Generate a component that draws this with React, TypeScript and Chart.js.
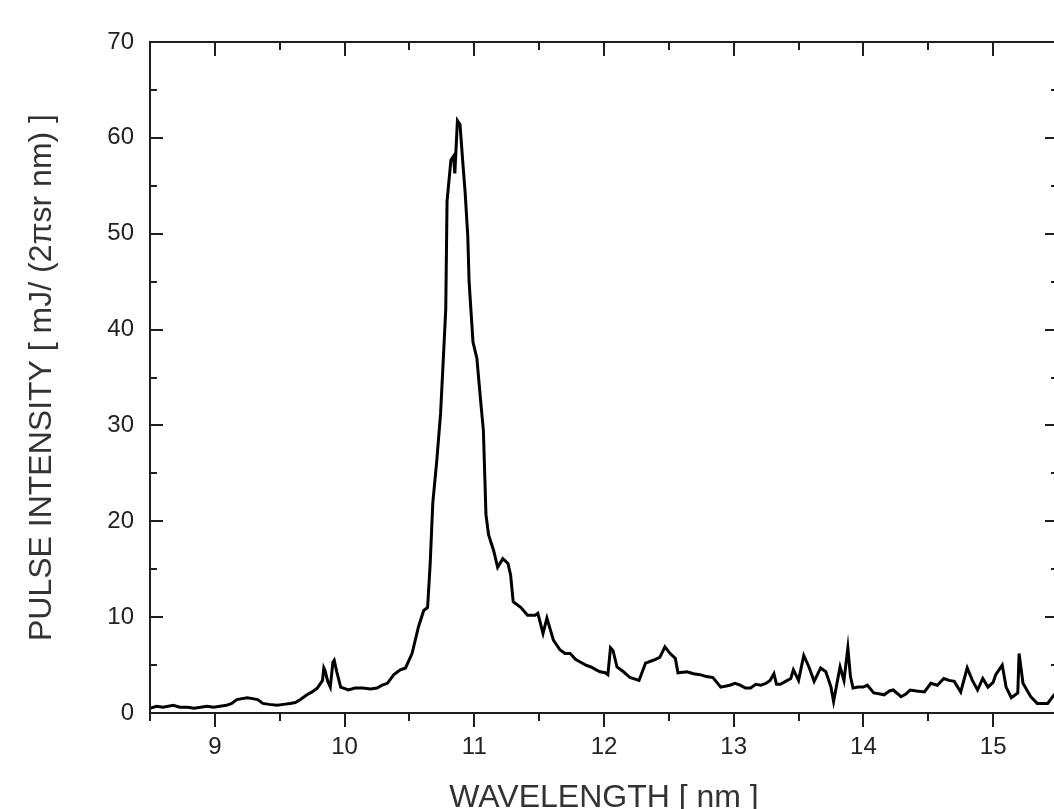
import { useEffect, useRef } from 'react';
import { Chart, registerables } from 'chart.js';

Chart.register(...registerables);

// Wavelength in nm (x) and pulse intensity in mJ/(2πsr nm) (y)
const wavelength = [
  8.50, 8.55, 8.60, 8.68, 8.73, 8.79, 8.84, 8.89, 8.94, 8.99,
  9.04, 9.09, 9.13, 9.17, 9.21, 9.25, 9.29, 9.33, 9.37, 9.42,
  9.48, 9.53, 9.58, 9.62, 9.66, 9.71, 9.75, 9.79, 9.83, 9.84,
  9.85, 9.87, 9.89, 9.91, 9.92, 9.94, 9.97, 10.03, 10.08, 10.14,
  10.20, 10.25, 10.29, 10.33, 10.38, 10.43, 10.47, 10.52, 10.57, 10.61,
  10.64, 10.66, 10.68, 10.71, 10.74, 10.76, 10.78, 10.79, 10.82, 10.84,
  10.85, 10.87, 10.89, 10.91, 10.93, 10.95, 10.96, 10.99, 11.02, 11.05,
  11.07, 11.09, 11.11, 11.15, 11.18, 11.22, 11.26, 11.28, 11.30, 11.36,
  11.41, 11.47, 11.49, 11.53, 11.56, 11.61, 11.66, 11.70, 11.74, 11.78,
  11.82, 11.86, 11.90, 11.94, 11.97, 12.01, 12.03, 12.05, 12.07, 12.10,
  12.15, 12.20, 12.27, 12.32, 12.38, 12.43, 12.47, 12.51, 12.55, 12.57,
  12.64, 12.69, 12.74, 12.79, 12.84, 12.90, 12.97, 13.01, 13.05, 13.09,
  13.13, 13.17, 13.21, 13.25, 13.28, 13.31, 13.33, 13.36, 13.40, 13.44,
  13.46, 13.50, 13.54, 13.58, 13.62, 13.67, 13.71, 13.75, 13.77, 13.80,
  13.82, 13.85, 13.88, 13.90, 13.92, 13.96, 14.00, 14.03, 14.08, 14.12,
  14.16, 14.20, 14.23, 14.29, 14.33, 14.36, 14.41, 14.47, 14.52, 14.57,
  14.62, 14.66, 14.70, 14.75, 14.80, 14.84, 14.88, 14.92, 14.96, 15.00,
  15.02, 15.07, 15.10, 15.14, 15.19, 15.20, 15.23, 15.29, 15.34, 15.42,
  15.47, 15.50,
];

const intensity = [
  0.5, 0.7, 0.6, 0.8, 0.6, 0.6, 0.5, 0.6, 0.7, 0.6,
  0.7, 0.8, 1.0, 1.4, 1.5, 1.6, 1.5, 1.4, 1.0, 0.9,
  0.8, 0.9, 1.0, 1.1, 1.4, 1.9, 2.2, 2.6, 3.4, 4.7,
  4.4, 3.3, 2.7, 5.3, 5.5, 4.3, 2.7, 2.4, 2.6, 2.6,
  2.5, 2.6, 2.9, 3.1, 4.0, 4.5, 4.7, 6.2, 9.0, 10.7,
  11.0, 15.6, 21.9, 26.2, 31.2, 36.6, 42.1, 53.4, 57.7, 58.1,
  56.3, 61.8, 61.4, 57.7, 54.2, 49.7, 45.0, 38.7, 37.0, 32.4,
  29.5, 20.7, 18.6, 16.9, 15.2, 16.1, 15.6, 14.4, 11.6, 11.0,
  10.2, 10.2, 10.4, 8.3, 9.9, 7.6, 6.6, 6.2, 6.2, 5.6,
  5.3, 5.0, 4.8, 4.5, 4.3, 4.2, 4.0, 6.8, 6.5, 4.8,
  4.3, 3.7, 3.4, 5.2, 5.5, 5.8, 6.9, 6.2, 5.7, 4.2,
  4.3, 4.1, 4.0, 3.8, 3.7, 2.7, 2.9, 3.1, 2.9, 2.6,
  2.6, 3.0, 2.9, 3.1, 3.4, 4.1, 3.0, 3.0, 3.3, 3.6,
  4.5, 3.4, 6.0, 4.8, 3.3, 4.7, 4.3, 2.7, 1.2, 3.4,
  4.8, 3.4, 6.8, 3.8, 2.6, 2.7, 2.7, 2.9, 2.1, 2.0,
  1.9, 2.3, 2.4, 1.7, 2.0, 2.4, 2.3, 2.2, 3.1, 2.9,
  3.6, 3.4, 3.3, 2.2, 4.7, 3.4, 2.4, 3.6, 2.7, 3.2,
  4.0, 5.0, 2.7, 1.6, 2.1, 6.2, 3.1, 1.7, 1.0, 1.0,
  1.9, 2.0,
];

const xMajorTicks = [9, 10, 11, 12, 13, 14, 15];
const xMinorTicks = [8.5, 9.5, 10.5, 11.5, 12.5, 13.5, 14.5, 15.5];
const yMajorTicks = [0, 10, 20, 30, 40, 50, 60, 70];
const yMinorTicks = [5, 15, 25, 35, 45, 55, 65];

const FONT = '"Liberation Sans", Arial, Helvetica, sans-serif';

const framePlugin = {
  id: 'frameTicks',
  afterDraw(chart: any) {
    const { ctx, chartArea } = chart;
    const { left, right, top, bottom } = chartArea;
    const xs = chart.scales.x;
    const ys = chart.scales.y;
    ctx.save();
    ctx.strokeStyle = '#1e1e1e';
    ctx.lineWidth = 2;
    ctx.lineCap = 'butt';
    ctx.strokeRect(left, top, right - left, bottom - top);
    const seg = (x1: number, y1: number, x2: number, y2: number) => {
      ctx.beginPath();
      ctx.moveTo(x1, y1);
      ctx.lineTo(x2, y2);
      ctx.stroke();
    };
    const drawX = (v: number, len: number) => {
      const px = Math.round(xs.getPixelForValue(v));
      seg(px, bottom, px, bottom + len);
      seg(px, top, px, top + len);
    };
    const drawY = (v: number, len: number) => {
      const py = Math.round(ys.getPixelForValue(v));
      seg(left, py, left + len, py);
      seg(right - len, py, right, py);
    };
    xMajorTicks.forEach((v) => drawX(v, 14));
    xMinorTicks.forEach((v) => drawX(v, 8));
    yMajorTicks.forEach((v) => drawY(v, 13));
    yMinorTicks.forEach((v) => drawY(v, 7));
    ctx.restore();
  },
};

export default function App() {
  const canvasRef = useRef<HTMLCanvasElement | null>(null);

  useEffect(() => {
    const canvas = canvasRef.current;
    if (!canvas) return;
    const points = wavelength.map((w, i) => ({ x: w, y: intensity[i] }));
    const chart = new Chart(canvas, {
      type: 'line',
      data: {
        datasets: [
          {
            data: points,
            borderColor: '#000000',
            borderWidth: 3,
            pointRadius: 0,
            tension: 0,
            fill: false,
          },
        ],
      },
      options: {
        animation: false,
        responsive: false,
        devicePixelRatio: 1,
        layout: { padding: { left: 0, top: 42, right: 12, bottom: 0 } },
        plugins: {
          legend: { display: false },
          tooltip: { enabled: false },
        },
        scales: {
          x: {
            type: 'linear',
            min: 8.5,
            max: 15.5,
            border: { display: false },
            grid: { display: false, drawTicks: false, tickLength: 0 },
            afterFit: (s: any) => {
              s.height = 107;
              s.paddingLeft = 0;
              s.paddingRight = 0;
            },
            ticks: {
              stepSize: 0.5,
              autoSkip: false,
              maxRotation: 0,
              padding: 20,
              color: '#222',
              font: { family: FONT, size: 24 },
              callback: (v: any) => (Number.isInteger(v) ? String(v) : ''),
            },
            title: {
              display: true,
              text: 'WAVELENGTH [ nm ]',
              color: '#333',
              font: { family: FONT, size: 32, lineHeight: 1 },
              padding: { top: 0, bottom: 6 },
            },
          },
          y: {
            min: 0,
            max: 70,
            border: { display: false },
            grid: { display: false, drawTicks: false, tickLength: 0 },
            afterFit: (s: any) => {
              s.width = 150;
            },
            ticks: {
              stepSize: 10,
              padding: 16,
              color: '#222',
              font: { family: FONT, size: 24 },
            },
            title: {
              display: true,
              text: 'PULSE INTENSITY [ mJ/ (2πsr nm) ]',
              color: '#333',
              font: { family: FONT, size: 32, lineHeight: 1 },
              padding: { top: 26, bottom: 0 },
            },
          },
        },
      },
      plugins: [framePlugin],
    });
    return () => chart.destroy();
  }, []);

  return (
    <div
      style={{
        position: 'fixed',
        left: 0,
        top: 0,
        width: 1054,
        height: 809,
        overflow: 'hidden',
        background: '#ffffff',
      }}
    >
      <canvas
        ref={canvasRef}
        width={1070}
        height={820}
        style={{ width: 1070, height: 820, display: 'block' }}
      />
    </div>
  );
}
